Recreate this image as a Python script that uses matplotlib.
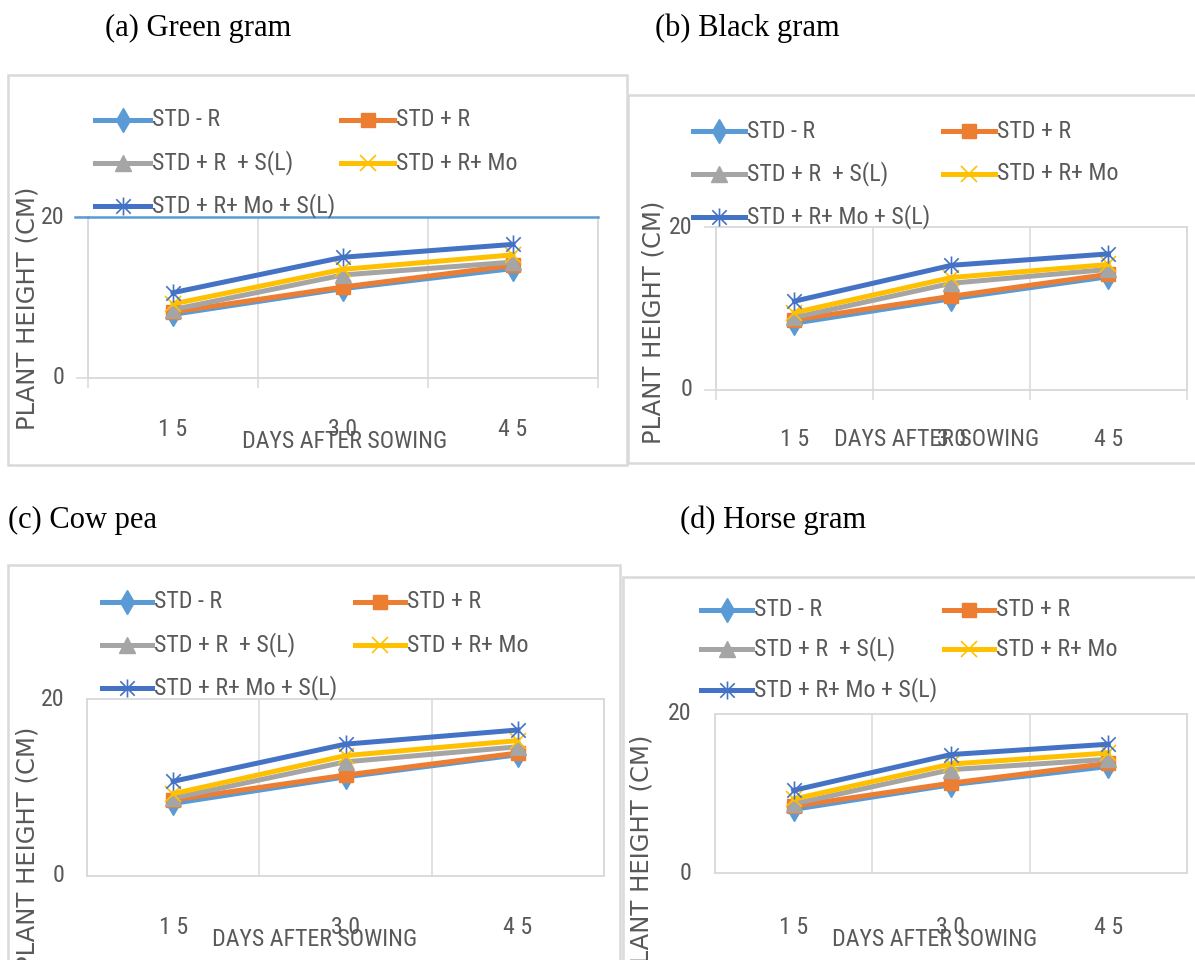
import os
import matplotlib
matplotlib.use('Agg')
import matplotlib.pyplot as plt
from matplotlib.lines import Line2D
from matplotlib.patches import Rectangle
from matplotlib.path import Path
from matplotlib.textpath import TextPath
from matplotlib.font_manager import FontProperties
from matplotlib import font_manager

W, H = 1195, 960

# Dados (altura da planta, cm)
days = [15, 30, 45]
series_names = ['STD - R', 'STD + R', 'STD + R  + S(L)', 'STD + R+ Mo', 'STD + R+ Mo + S(L)']

green_gram = [
    [7.9, 11.1, 13.6],
    [8.2, 11.3, 14.0],
    [8.5, 12.8, 14.4],
    [9.2, 13.5, 15.3],
    [10.6, 15.0, 16.6],
]
black_gram = [
    [8.2, 11.2, 13.9],
    [8.6, 11.5, 14.2],
    [8.9, 13.1, 14.8],
    [9.5, 13.8, 15.4],
    [10.9, 15.3, 16.7],
]
cow_pea = [
    [8.2, 11.2, 13.7],
    [8.6, 11.4, 13.9],
    [8.8, 12.9, 14.6],
    [9.3, 13.6, 15.3],
    [10.7, 14.9, 16.5],
]
horse_gram = [
    [8.0, 11.1, 13.4],
    [8.4, 11.3, 13.8],
    [8.7, 13.0, 14.3],
    [9.3, 13.7, 15.1],
    [10.4, 14.9, 16.2],
]

#Procura uma fonte estreita (o original é Calibri comprimido)
def pick_narrow():
    prefs = ['RobotoCondensed-Regular', 'NotoSans-Condensed.', 'LiberationSansNarrow-Regular',
             'OpenSans_Condensed-Regular', 'OpenSans-CondensedRegular', 'NotoSans-SemiCondensed.',
             'DejaVuSansCondensed.']
    files = [f.fname for f in font_manager.fontManager.ttflist]
    for key in prefs:
        for fn in files:
            if key in os.path.basename(fn):
                return FontProperties(fname=fn)
    return FontProperties(family='Liberation Sans')

narrow = pick_narrow()

#Tamanho (pt) para que o texto tenha a largura desejada em pixels
def size_for(text, fp, target_px):
    w = TextPath((0, 0), text, size=100, prop=fp).get_extents().width / 100
    return target_px / w * 72 / 100

def fp_size(fp, size):
    f = fp.copy()
    f.set_size(size)
    return f

leg_fp = fp_size(narrow, size_for('STD + R+ Mo + S(L)', narrow, 180))
axt_fp = fp_size(narrow, size_for('DAYS AFTER SOWING', narrow, 202))
tick_fp = leg_fp

#Marcador asterisco do Excel (linha vertical + X)
star = Path([(0, -1), (0, 1), (-0.8, -0.8), (0.8, 0.8), (-0.8, 0.8), (0.8, -0.8)],
            [Path.MOVETO, Path.LINETO, Path.MOVETO, Path.LINETO, Path.MOVETO, Path.LINETO])

styles = [
    dict(color='#5B9BD5', marker='d', ms=12, mew=1),
    dict(color='#ED7D31', marker='s', ms=10, mew=1),
    dict(color='#A5A5A5', marker='^', ms=11, mew=1),
    dict(color='#FFC000', marker='x', ms=11, mew=1.2),
    dict(color='#4472C4', marker=star, ms=13, mew=1.2),
]

GRID = '#d9d9d9'
TXT = '#595959'

panels = [
    dict(title='(a) Green gram', title_xy=(105, 28), data=green_gram,
         frame=(8, 75, 627, 465), plot=(88, 217, 598, 378), ticks=True, blue_top=True,
         ylab=(28, 308), xlab=(345, 442), xtick_y=430,
         leg_rows=[120, 163, 206], leg_cols=[(95, 150), (341, 394)]),
    dict(title='(b) Black gram', title_xy=(655, 28), data=black_gram,
         frame=(628, 95, 1215, 463), plot=(716, 227, 1187, 390), ticks=True, blue_top=False,
         ylab=(653, 322), xlab=(937, 440), xtick_y=440,
         leg_rows=[131, 174, 217], leg_cols=[(693, 745), (943, 995)]),
    dict(title='(c) Cow pea', title_xy=(8, 520), data=cow_pea,
         frame=(8, 565, 620, 980), plot=(87, 699, 604, 876), ticks=False, blue_top=False,
         ylab=(28, 848), xlab=(315, 940), xtick_y=927,
         leg_rows=[602, 645, 688], leg_cols=[(102, 152), (355, 405)]),
    dict(title='(d) Horse gram', title_xy=(680, 520), data=horse_gram,
         frame=(623, 577, 1215, 980), plot=(715, 714, 1187, 873), ticks=False, blue_top=False,
         ylab=(642, 856), xlab=(935, 940), xtick_y=927,
         leg_rows=[610, 649, 690], leg_cols=[(701, 752), (944, 994)]),
]

fx = lambda x: x / W
fy = lambda y: 1 - y / H

fig = plt.figure(figsize=(W / 100, H / 100), dpi=100)

def draw_panel(p):
    #Moldura do gráfico
    x0, y0, x1, y1 = p['frame']
    fig.add_artist(Rectangle((fx(x0), fy(y1)), (x1 - x0) / W, (y1 - y0) / H,
                             transform=fig.transFigure, fill=False, ec=GRID, lw=1.8, zorder=1))
    fig.text(fx(p['title_xy'][0]), fy(p['title_xy'][1]), p['title'], ha='left', va='center',
             fontsize=22, family='Liberation Serif', color='black')

    l, t, r, b = p['plot']
    ax = fig.add_axes([fx(l), fy(b), (r - l) / W, (b - t) / H])
    ax.set_xlim(0.5, 3.5)
    ax.set_ylim(0, 20)
    x = list(range(1, len(days) + 1))
    for i, (vals, st) in enumerate(zip(p['data'], styles)):
        ax.plot(x, vals, color=st['color'], lw=3.6, marker=st['marker'], ms=st['ms'],
                mec=st['color'], mfc=st['color'], mew=st['mew'], zorder=3 + i, clip_on=False)

    for s in ax.spines.values():
        s.set_color(GRID)
        s.set_linewidth(1.3)
    if p['blue_top']:
        ax.spines['top'].set_color('#5B9BD5')
        ax.spines['top'].set_linewidth(1.8)
        fig.add_artist(Line2D([fx(l - 13), fx(l)], [fy(t), fy(t)], transform=fig.transFigure,
                              color='#5B9BD5', lw=1.8))

    ax.set_xticks([])
    ax.set_xticks([0.5, 1.5, 2.5, 3.5], minor=True)
    ax.grid(which='minor', axis='x', color=GRID, lw=1.1)
    ax.set_yticks([0, 20])
    ax.set_yticklabels([])
    if p['ticks']:
        ax.tick_params(axis='x', which='minor', length=7, width=1.1, color=GRID, direction='out')
        ax.tick_params(axis='y', length=9, width=1.1, color=GRID, direction='out')
    else:
        ax.tick_params(axis='both', which='both', length=0)

    #Rótulos dos eixos
    h = b - t
    for xi, d in zip(x, days):
        ax.text(xi, -(p['xtick_y'] - b) / h, ' '.join(str(d)), transform=ax.get_xaxis_transform(),
                ha='center', va='center', fontproperties=tick_fp, color=TXT)
    for yv in [0, 20]:
        ax.text(-23 / (r - l), yv, str(yv), transform=ax.get_yaxis_transform(),
                ha='right', va='center', fontproperties=tick_fp, color=TXT)
    fig.text(fx(p['xlab'][0]), fy(p['xlab'][1]), 'DAYS AFTER SOWING', ha='center', va='center',
             fontproperties=axt_fp, color=TXT, zorder=5)
    fig.text(fx(p['ylab'][0]), fy(p['ylab'][1]), 'PLANT HEIGHT (CM)', ha='center', va='center',
             rotation=90, fontsize=17.5, family='DejaVu Sans', color=TXT)

    #Legenda (ordem por linhas, como no Excel)
    for i, (name, st) in enumerate(zip(series_names, styles)):
        row, col = divmod(i, 2)
        y = p['leg_rows'][row]
        lx0, lx1 = p['leg_cols'][col]
        fig.add_artist(Line2D([fx(lx0), fx(lx1)], [fy(y), fy(y)], transform=fig.transFigure,
                              color=st['color'], lw=3.6, zorder=6))
        fig.add_artist(Line2D([fx((lx0 + lx1) / 2)], [fy(y)], transform=fig.transFigure, ls='none',
                              marker=st['marker'], ms=st['ms'], mec=st['color'], mfc=st['color'],
                              mew=st['mew'], zorder=6))
        fig.text(fx(lx1 + 2), fy(y), name, ha='left', va='center', fontproperties=leg_fp,
                 color=TXT, zorder=6)

for p in panels:
    draw_panel(p)

plt.savefig('out.png', dpi=100)
plt.close()
